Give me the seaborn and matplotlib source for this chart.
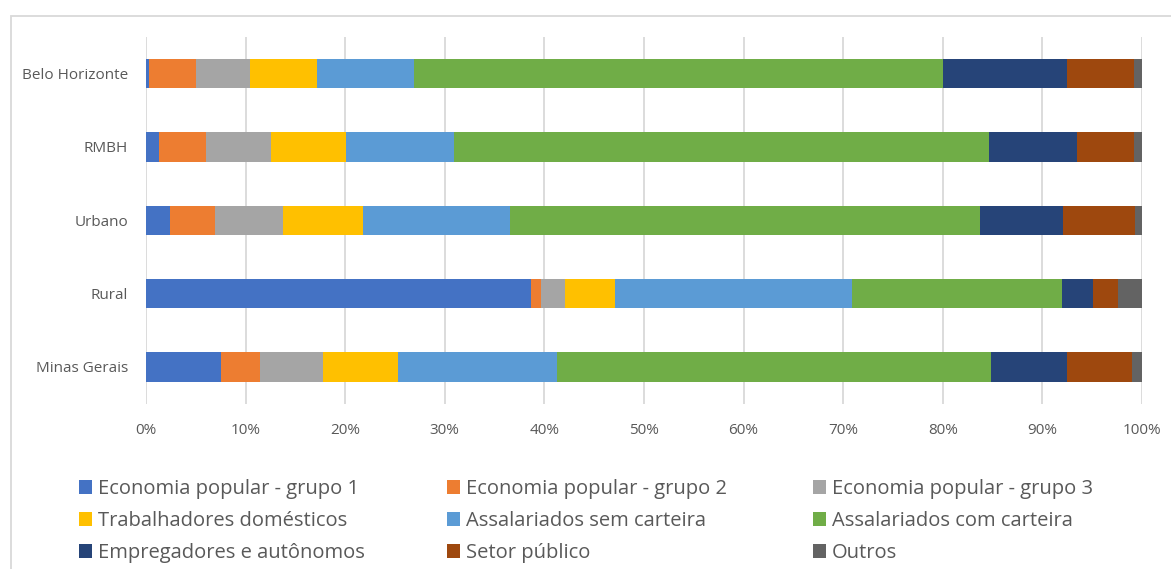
import seaborn as sns
import pandas as pd
import matplotlib.pyplot as plt
from matplotlib.patches import Patch, Rectangle
from matplotlib.ticker import FuncFormatter

regioes = ["Belo Horizonte", "RMBH", "Urbano", "Rural", "Minas Gerais"]

grupo1 = [0.3, 1.3, 2.4, 38.7, 7.5]
grupo2 = [4.7, 4.7, 4.5, 1.0, 3.9]
grupo3 = [5.45, 6.5, 6.9, 2.4, 6.4]
domesticos = [6.75, 7.6, 8.0, 5.0, 7.5]
sem_carteira = [9.7, 10.8, 14.7, 23.8, 16.0]
com_carteira = [53.1, 53.7, 47.2, 21.1, 43.5]
empregadores = [12.5, 8.9, 8.4, 3.1, 7.7]
setor_publico = [6.7, 5.7, 7.2, 2.5, 6.5]
outros = [0.8, 0.8, 0.7, 2.4, 1.0]

series = ["Economia popular - grupo 1", "Economia popular - grupo 2",
          "Economia popular - grupo 3", "Trabalhadores domésticos",
          "Assalariados sem carteira", "Assalariados com carteira",
          "Empregadores e autônomos", "Setor público", "Outros"]
cores = ["#4472C4", "#ED7D31", "#A5A5A5", "#FFC000", "#5B9BD5",
         "#70AD47", "#264478", "#9E480E", "#636363"]


def main():
    sns.set_style("white")
    plt.rcParams["font.family"] = ["Open Sans", "DejaVu Sans"]

    df = pd.DataFrame({"regiao": regioes})
    valores = [grupo1, grupo2, grupo3, domesticos, sem_carteira,
               com_carteira, empregadores, setor_publico, outros]
    for nome, v in zip(series, valores):
        df[nome] = v
    # cumulative sums, largest drawn first so the shorter ones overlay
    cum = df[series].cumsum(axis=1)
    cum["regiao"] = df["regiao"]

    fig = plt.figure(figsize=(11.71, 5.69), dpi=100)
    ax = fig.add_axes([146 / 1171, 1 - 403.5 / 569, 996 / 1171, 366.5 / 569])

    for nome, cor in reversed(list(zip(series, cores))):
        sns.barplot(data=cum, x=nome, y="regiao", order=regioes, orient="h",
                    color=cor, saturation=1, width=0.4, linewidth=0, ax=ax)

    ax.set(xlabel="", ylabel="")
    ax.set_xlim(0, 100)
    ax.set_ylim(4.5, -0.5)
    ax.set_xticks(range(0, 101, 10))
    ax.xaxis.set_major_formatter(FuncFormatter(lambda v, p: f"{v:.0f}%"))
    ax.xaxis.grid(True, color="#d9d9d9", linewidth=1.3)
    ax.set_axisbelow(True)
    for s in ax.spines.values():
        s.set_visible(False)
    ax.tick_params(axis="x", length=0, pad=14, labelsize=11, labelcolor="#595959")
    ax.tick_params(axis="y", length=0, pad=13, labelsize=11, labelcolor="#595959")

    # legend in three columns, filled row-wise like the original
    posx = [79 / 1171, 447 / 1171, 813 / 1171]
    for c in range(3):
        idx = [c, c + 3, c + 6]
        handles = [Patch(facecolor=cores[i], edgecolor="none") for i in idx]
        fig.legend(handles, [series[i] for i in idx], loc="upper left",
                   bbox_to_anchor=(posx[c], 0.158), frameon=False,
                   borderpad=0, borderaxespad=0, handlelength=0.65,
                   handleheight=0.65, handletextpad=0.3, labelspacing=0.59,
                   fontsize=14.5, labelcolor="#595959")

    fig.add_artist(Rectangle((11 / 1171, -0.05), 1.1, (569 - 16) / 569 + 0.05,
                             transform=fig.transFigure, fill=False,
                             edgecolor="#d9d9d9", linewidth=1.3))

    plt.savefig("out.png", dpi=100)


if __name__ == "__main__":
    main()
